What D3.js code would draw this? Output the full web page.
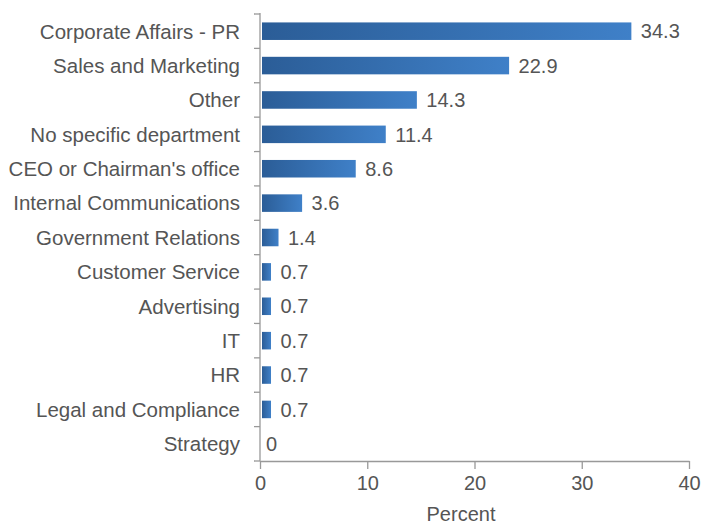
<!DOCTYPE html>
<html>
<head>
<meta charset="utf-8">
<script src="https://cdn.jsdelivr.net/npm/d3@7"></script>
<style>
  html, body { margin: 0; padding: 0; background: #fff; }
  svg text { font-family: "Liberation Sans", Arial, Helvetica, sans-serif; fill: #555; }
</style>
</head>
<body>
<svg id="chart" width="701" height="524"></svg>
<script>
const categories = [
  "Corporate Affairs - PR", "Sales and Marketing", "Other", "No specific department",
  "CEO or Chairman's office", "Internal Communications", "Government Relations",
  "Customer Service", "Advertising", "IT", "HR", "Legal and Compliance", "Strategy"
];
const values = [34.3, 22.9, 14.3, 11.4, 8.6, 3.6, 1.4, 0.7, 0.7, 0.7, 0.7, 0.7, 0];
const xTicks = [0, 10, 20, 30, 40];
const xTitle = "Percent";

const svg = d3.select("#chart");
const FS = 20;

const x = d3.scaleLinear().domain([0, 40]).range([260, 689]);
const y = d3.scaleBand().domain(categories).range([14, 461]).paddingInner(0.49).paddingOuter(0.245);

const defs = svg.append("defs");
const grad = defs.append("linearGradient").attr("id", "barGrad")
  .attr("x1", "0%").attr("x2", "100%").attr("y1", "0%").attr("y2", "0%");
grad.append("stop").attr("offset", "0%").attr("stop-color", "#2b5d97");
grad.append("stop").attr("offset", "100%").attr("stop-color", "#3f80c8");

const rows = categories.map((c, i) => ({ c, v: values[i] }));

// bars
svg.append("g").selectAll("rect").data(rows.filter(d => d.v > 0)).join("rect")
  .attr("x", x(0) + 2)
  .attr("y", d => y(d.c))
  .attr("height", y.bandwidth())
  .attr("width", d => x(d.v) - x(0) + 1.5)
  .attr("fill", "url(#barGrad)");

// value labels
svg.append("g").selectAll("text").data(rows).join("text")
  .attr("x", d => d.v > 0 ? x(d.v) + 13 : x(0) + 6)
  .attr("y", d => y(d.c) + y.bandwidth() / 2)
  .attr("dy", "0.36em")
  .attr("font-size", FS)
  .text(d => d.v);

// y axis: line with boundary ticks
const yAxis = svg.append("g");
yAxis.append("line").attr("x1", x(0)).attr("x2", x(0))
  .attr("y1", 13).attr("y2", 461).attr("stroke", "#999").attr("stroke-width", 1.3);
const bounds = categories.map(c => y(c) - y.step() * y.paddingInner() / 2);
bounds.push(461);
yAxis.selectAll(".bt").data(bounds).join("line")
  .attr("x1", x(0) - 6).attr("x2", x(0))
  .attr("y1", d => d).attr("y2", d => d)
  .attr("stroke", "#999").attr("stroke-width", 1.3);
yAxis.selectAll("text").data(categories).join("text")
  .attr("x", 240)
  .attr("y", c => y(c) + y.bandwidth() / 2)
  .attr("dy", "0.36em")
  .attr("text-anchor", "end")
  .attr("font-size", 20.5)
  .text(c => c);

// x axis
const xAxis = svg.append("g").attr("transform", "translate(0,461)")
  .call(d3.axisBottom(x).tickValues(xTicks).tickSize(8).tickPadding(7).tickSizeOuter(0));
xAxis.select(".domain").attr("stroke", "#999").attr("stroke-width", 1.3);
xAxis.selectAll(".tick line").attr("stroke", "#999").attr("stroke-width", 1.3);
xAxis.selectAll(".tick text").attr("font-size", FS).attr("fill", "#555")
  .attr("font-family", "Liberation Sans, Arial, sans-serif");

svg.append("text").attr("x", 461).attr("y", 521).attr("text-anchor", "middle")
  .attr("font-size", FS).text(xTitle);
</script>
</body>
</html>
